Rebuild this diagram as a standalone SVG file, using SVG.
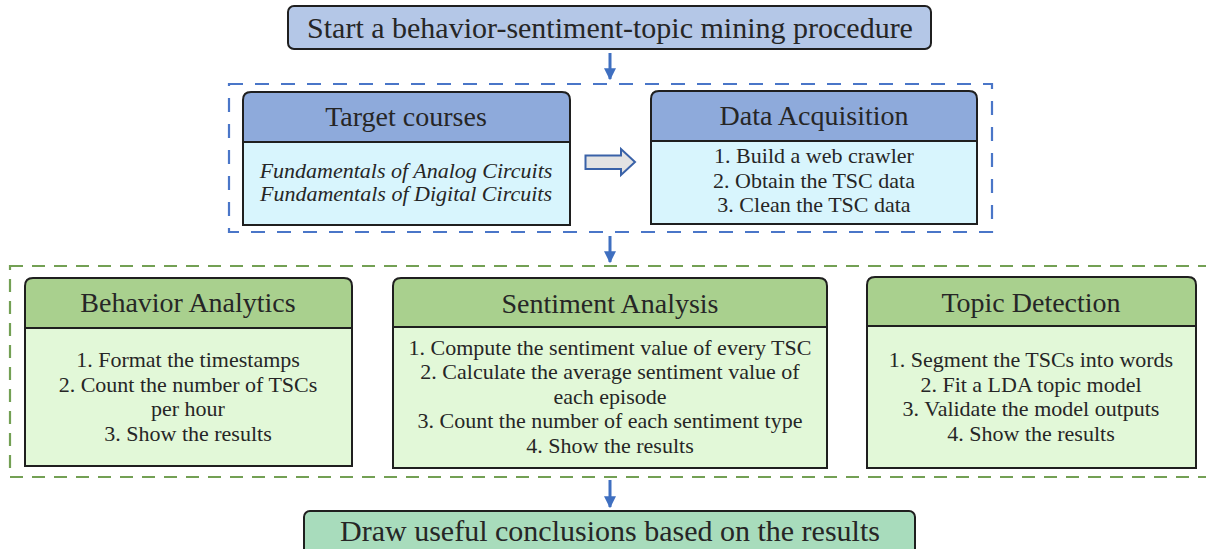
<svg xmlns="http://www.w3.org/2000/svg" width="1206" height="549" viewBox="0 0 1206 549">
  <defs>
    <style>
      text { font-family: "Liberation Serif", "Times New Roman", serif; fill: #262626; text-anchor: middle; }
      .title { font-size: 30px; }
      .head { font-size: 28px; }
      .body { font-size: 22px; }
      .ital { font-size: 22px; font-style: italic; }
      .edge { stroke: #1f1f1f; stroke-width: 2; }
      .hdr-blue { fill: #8eaadb; }
      .bdy-blue { fill: #d8f5fd; }
      .hdr-green { fill: #a9d08e; }
      .bdy-green { fill: #e2f8d8; }
      .frame-blue { fill: none; stroke: #4a76c8; stroke-width: 2.2; stroke-dasharray: 14 12; }
      .frame-green { fill: none; stroke: #73a054; stroke-width: 2.2; stroke-dasharray: 13 9; }
      .flow { stroke: #3f6fc0; stroke-width: 3; fill: none; }
    </style>
    <marker id="head" viewBox="0 0 10 10" refX="9" refY="5" markerWidth="4" markerHeight="4" orient="auto" markerUnits="strokeWidth">
      <path d="M0,0 L10,5 L0,10 Z" fill="#3f6fc0"/>
    </marker>
  </defs>

  <!-- dashed grouping frames -->
  <rect class="frame-blue" x="229" y="84" width="763" height="148"/>
  <rect class="frame-green" x="10" y="266" width="1210" height="211"/>

  <!-- start node -->
  <g id="start">
    <rect x="288" y="6" width="643" height="43" rx="6" fill="#b4c7e7" class="edge"/>
    <text class="title" x="610" y="38">Start a behavior-sentiment-topic mining procedure</text>
  </g>

  <!-- target courses -->
  <g id="target-courses">
    <path class="bdy-blue edge" d="M243,142 H570 V225 H243 Z"/>
    <path class="hdr-blue edge" d="M243,142 V100 Q243,92 251,92 H562 Q570,92 570,100 V142 Z"/>
    <text class="head" x="406" y="126">Target courses</text>
    <text class="ital" x="406" y="178">Fundamentals of Analog Circuits</text>
    <text class="ital" x="406" y="201">Fundamentals of Digital Circuits</text>
  </g>

  <!-- data acquisition -->
  <g id="data-acquisition">
    <path class="bdy-blue edge" d="M651,141 H977 V224 H651 Z"/>
    <path class="hdr-blue edge" d="M651,141 V99 Q651,91 659,91 H969 Q977,91 977,99 V141 Z"/>
    <text class="head" x="814" y="125">Data Acquisition</text>
    <text class="body" x="814" y="163">1. Build a web crawler</text>
    <text class="body" x="814" y="188">2. Obtain the TSC data</text>
    <text class="body" x="814" y="212">3. Clean the TSC data</text>
  </g>

  <!-- behavior analytics -->
  <g id="behavior-analytics">
    <path class="bdy-green edge" d="M25,328 H352 V466 H25 Z"/>
    <path class="hdr-green edge" d="M25,328 V286 Q25,278 33,278 H344 Q352,278 352,286 V328 Z"/>
    <text class="head" x="188" y="312">Behavior Analytics</text>
    <text class="body" x="188" y="367">1. Format the timestamps</text>
    <text class="body" x="188" y="392">2. Count the number of TSCs</text>
    <text class="body" x="188" y="416">per hour</text>
    <text class="body" x="188" y="441">3. Show the results</text>
  </g>

  <!-- sentiment analysis -->
  <g id="sentiment-analysis">
    <path class="bdy-green edge" d="M393,327 H827 V468 H393 Z"/>
    <path class="hdr-green edge" d="M393,327 V286 Q393,278 401,278 H819 Q827,278 827,286 V327 Z"/>
    <text class="head" x="610" y="313">Sentiment Analysis</text>
    <text class="body" x="610" y="355">1. Compute the sentiment value of every TSC</text>
    <text class="body" x="610" y="379">2. Calculate the average sentiment value of</text>
    <text class="body" x="610" y="404">each episode</text>
    <text class="body" x="610" y="428">3. Count the number of each sentiment type</text>
    <text class="body" x="610" y="453">4. Show the results</text>
  </g>

  <!-- topic detection -->
  <g id="topic-detection">
    <path class="bdy-green edge" d="M867,326 H1196 V468 H867 Z"/>
    <path class="hdr-green edge" d="M867,326 V285 Q867,277 875,277 H1188 Q1196,277 1196,285 V326 Z"/>
    <text class="head" x="1031" y="312">Topic Detection</text>
    <text class="body" x="1031" y="367">1. Segment the TSCs into words</text>
    <text class="body" x="1031" y="392">2. Fit a LDA topic model</text>
    <text class="body" x="1031" y="416">3. Validate the model outputs</text>
    <text class="body" x="1031" y="441">4. Show the results</text>
  </g>

  <!-- conclusion node -->
  <g id="conclusions">
    <rect x="304" y="511" width="611" height="50" rx="6" fill="#a8dcbc" class="edge"/>
    <text class="title" x="610" y="541">Draw useful conclusions based on the results</text>
  </g>

  <!-- connectors -->
  <g id="connectors">
    <line class="flow" x1="610" y1="53" x2="610" y2="79" marker-end="url(#head)"/>
    <line class="flow" x1="610" y1="236" x2="610" y2="262" marker-end="url(#head)"/>
    <line class="flow" x1="610" y1="480" x2="610" y2="507" marker-end="url(#head)"/>
    <path d="M585.5,155.5 H621 V149 L635,162 L621,175 V169 H585.5 Z" fill="#e3e3e3" stroke="#3a62a8" stroke-width="2"/>
  </g>
</svg>
